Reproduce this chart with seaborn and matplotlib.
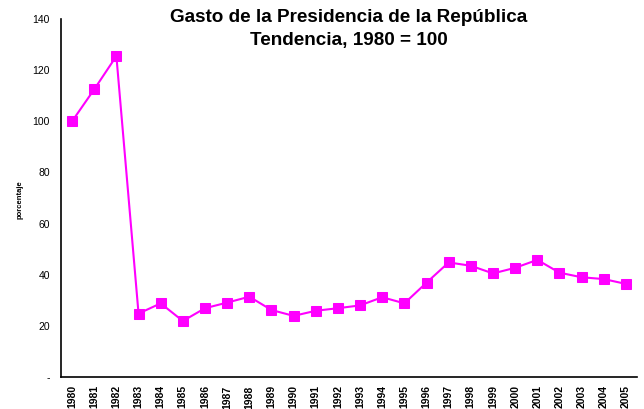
import numpy as np
import pandas as pd
import matplotlib
matplotlib.use("Agg")
import matplotlib.pyplot as plt
import seaborn as sns

# Data
years = [str(y) for y in range(1980, 2006)]
values = [100.0, 112.5, 125.5, 24.8, 28.8, 21.9, 26.9, 29.1, 31.4, 26.2,
          23.9, 25.9, 26.9, 28.0, 31.2, 28.8, 36.9, 44.8, 43.5, 40.5,
          42.7, 45.8, 40.8, 39.0, 38.3, 36.4]
y_ticks = [0, 20, 40, 60, 80, 100, 120, 140]
y_tick_labels = ["-", "20", "40", "60", "80", "100", "120", "140"]

df = pd.DataFrame({"year": years, "value": values})

sns.set_style("white")
plt.rcParams["font.family"] = ["Liberation Sans", "DejaVu Sans"]
plt.rcParams["text.color"] = "black"
plt.rcParams["xtick.color"] = "black"
plt.rcParams["ytick.color"] = "black"

fig = plt.figure(figsize=(6.44, 4.09), dpi=100)
ax = fig.add_axes([61 / 644, 1 - 377 / 409, (637 - 61) / 644, (377 - 19) / 409])

sns.lineplot(data=df, x="year", y="value", ax=ax, color="#FF00FF",
             marker="s", markersize=7, markeredgecolor="#FF00FF",
             linewidth=1.5, sort=False)

ax.set_xlim(-0.5, len(years) - 0.5)
ax.set_ylim(0, 140)
ax.set_yticks(y_ticks)
ax.set_yticklabels(y_tick_labels, fontsize=7.5)
ax.set_xticks(range(len(years)))
ax.set_xticklabels(years, rotation=90, fontsize=7.5, fontweight="bold")
ax.tick_params(axis="both", length=0)
ax.tick_params(axis="x", pad=6)
ax.tick_params(axis="y", pad=8)
ax.set_xlabel("")
ax.set_ylabel("")

sns.despine(ax=ax)
for side in ["left", "bottom"]:
    ax.spines[side].set_color("black")
    ax.spines[side].set_linewidth(1.2)

fig.text(20 / 644, 1 - 200 / 409, "porcentaje", rotation=90, ha="center",
         va="center", fontsize=5.5, fontweight="bold")
fig.text(349 / 644, 1 - 17 / 409, "Gasto de la Presidencia de la República",
         ha="center", va="center", fontsize=13.6, fontweight="bold")
fig.text(349 / 644, 1 - 40 / 409, "Tendencia, 1980 = 100",
         ha="center", va="center", fontsize=13.6, fontweight="bold")

fig.savefig("out.png", dpi=100)
